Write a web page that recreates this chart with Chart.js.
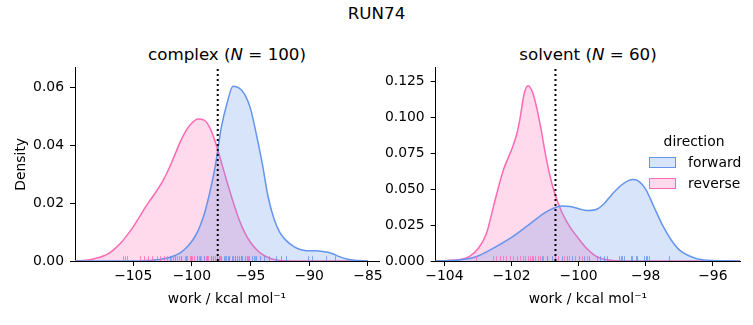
<!DOCTYPE html>
<html>
<head>
<meta charset="utf-8">
<script src="https://cdn.jsdelivr.net/npm/chart.js@4.4.0/dist/chart.umd.min.js"></script>
<style>
  body { margin: 0; width: 753px; height: 325px; background: #fff; position: relative; overflow: hidden;
         font-family: "DejaVu Sans", sans-serif; color: #000; }
  .txt { position: absolute; white-space: nowrap; line-height: 20px; }
  .suptitle { font-size: 16.7px; left: 0; width: 753px; text-align: center; top: 3px; }
  .subtitle { font-size: 16.7px; top: 43.6px; transform: translateX(-50%); }
  canvas { position: absolute; }
  .legend { position: absolute; font-size: 13.9px; line-height: 16px; white-space: nowrap; }
  .swatch { position: absolute; width: 25px; height: 9px; box-sizing: content-box; }
</style>
</head>
<body>
<div class="txt suptitle">RUN74</div>
<div class="txt subtitle" style="left:227px">complex (<i>N</i> = 100)</div>
<div class="txt subtitle" style="left:588px">solvent (<i>N</i> = 60)</div>

<canvas id="complex" width="390" height="285" style="left:0;top:40px"></canvas>
<canvas id="solvent" width="373" height="285" style="left:380px;top:40px"></canvas>

<div class="legend" style="left:694px;top:133px;transform:translateX(-50%)">direction</div>
<div class="swatch" style="left:649px;top:157px;border:1px solid rgb(100,149,237);background:rgba(100,149,237,0.25)"></div>
<div class="legend" style="left:688px;top:154px">forward</div>
<div class="swatch" style="left:649px;top:177.5px;border:1px solid rgb(255,105,180);background:rgba(255,105,180,0.25)"></div>
<div class="legend" style="left:688px;top:174.5px">reverse</div>

<script>
// ---- values ----
const xTicksComplex = [-105, -100, -95, -90, -85];
const yTicksComplex = [0, 0.02, 0.04, 0.06];
const xTicksSolvent = [-104, -102, -100, -98, -96];
const yTicksSolvent = [0, 0.025, 0.05, 0.075, 0.1, 0.125];

// density curves, complex leg
const complexGrid = [-110, -109.5, -109, -108.5, -108, -107.5, -107, -106.5, -106, -105.5,
  -105, -104.5, -104, -103.5, -103, -102.5, -102, -101.5, -101, -100.5,
  -100, -99.5, -99, -98.5, -98, -97.5, -97, -96.5, -96, -95.5,
  -95, -94.5, -94, -93.5, -93, -92.5, -92, -91.5, -91, -90.5,
  -90, -89.5, -89, -88.5, -88, -87.5, -87, -86.5, -86, -85.5, -85];
const complexForward = [0, 0, 0, 0, 0, 0, 0, 0, 0, 0,
  0, 0, 0.0001, 0.0002, 0.0004, 0.0007, 0.0011, 0.0018, 0.0028, 0.0045,
  0.0068, 0.0102, 0.0155, 0.0232, 0.033, 0.046, 0.0545, 0.0603, 0.0597, 0.0575,
  0.0525, 0.0435, 0.0335, 0.022, 0.0145, 0.0098, 0.0072, 0.0055, 0.0043, 0.0037,
  0.0035, 0.0035, 0.0034, 0.0031, 0.0025, 0.0016, 0.0009, 0.0004, 0.0002, 0.0001, 0];
const complexReverse = [0, 0.0001, 0.0003, 0.0006, 0.0011, 0.0018, 0.0028, 0.0045, 0.0065, 0.009,
  0.0118, 0.015, 0.0183, 0.0213, 0.0242, 0.0275, 0.0315, 0.0362, 0.041, 0.045,
  0.0476, 0.049, 0.0487, 0.0462, 0.041, 0.0342, 0.0272, 0.0205, 0.0145, 0.0098,
  0.0064, 0.004, 0.0023, 0.0012, 0.0005, 0.0002, 0.0001, 0, 0, 0,
  0, 0, 0, 0, 0, 0, 0, 0, 0, 0, 0];

// density curves, solvent leg
const solventForwardX = [-104.5, -104, -103.5, -103, -102.5, -102, -101.5, -101, -100.75, -100.5,
  -100.25, -100, -99.75, -99.5, -99.25, -99, -98.75, -98.5, -98.38, -98.25,
  -98, -97.75, -97.5, -97.25, -97, -96.5, -96, -95.5, -95];
const solventForwardY = [0, 0.0002, 0.0008, 0.0035, 0.0095, 0.0165, 0.025, 0.0338, 0.0368, 0.0383,
  0.038, 0.0365, 0.0352, 0.0358, 0.0398, 0.0466, 0.0525, 0.0562, 0.0568, 0.0562,
  0.05, 0.0375, 0.025, 0.015, 0.0078, 0.0018, 0.0003, 0.0001, 0];
const solventReverseX = [-104.5, -104, -103.5, -103.25, -103, -102.75, -102.5, -102.25, -102, -101.85,
  -101.75, -101.62, -101.5, -101.38, -101.25, -101.12, -101, -100.87, -100.75, -100.5,
  -100.25, -100, -99.75, -99.5, -99.25, -99, -98.5, -95];
const solventReverseY = [0, 0.0002, 0.0012, 0.0032, 0.0085, 0.019, 0.0415, 0.063, 0.0775, 0.088,
  0.099, 0.117, 0.1222, 0.118, 0.107, 0.092, 0.076, 0.061, 0.05, 0.034,
  0.0235, 0.0155, 0.0085, 0.0035, 0.0012, 0.0004, 0, 0];

// individual work values (rug)
const complexForwardWork = [-101.9, -101.4, -100.9, -100.5, -100.1, -99.6, -99.3, -99.0, -98.7, -98.4,
  -98.2, -97.9, -97.7, -97.5, -97.3, -97.1, -96.9, -96.8, -96.6, -96.5, -96.3, -96.2, -96.0,
  -95.8, -95.7, -95.5, -95.3, -95.1, -94.9, -94.7, -94.5, -94.2, -93.9, -93.4, -92.8, -92.4,
  -92.0, -90.1, -89.8, -88.55, -87.8];
const complexReverseWork = [-105.9, -105.7, -105.5, -104.4, -104.1, -103.7, -103.4, -103.0, -102.7,
  -102.4, -102.1, -101.8, -101.6, -101.3, -101.1, -100.9, -100.6, -100.4, -100.2, -100.0, -99.8,
  -99.6, -99.4, -99.2, -99.0, -98.8, -98.6, -98.4, -98.2, -98.0, -97.6, -97.2, -96.8, -96.3,
  -95.8, -95.2, -94.6];
const solventForwardWork = [-101.1, -100.95, -100.8, -100.7, -100.5, -100.35, -100.2, -100.0, -99.85,
  -99.7, -99.45, -99.35, -99.25, -99.15, -98.8, -98.75, -98.7, -98.65, -98.45, -98.4, -98.3,
  -98.25, -98.05, -98.0, -97.95, -97.9, -97.3];
const solventReverseWork = [-103.05, -102.55, -102.45, -102.35, -102.25, -102.15, -102.05, -101.95,
  -101.85, -101.75, -101.65, -101.6, -101.5, -101.45, -101.4, -101.35, -101.3, -101.2, -101.15,
  -101.05, -100.95, -100.8, -100.6, -100.45, -100.3, -100.1, -99.9, -99.75];

// dotted reference lines
const complexCut = -97.8;
const solventCut = -100.69;

const BLUE = 'rgb(100,149,237)';
const PINK = 'rgb(255,105,180)';
const FONT = { family: '"DejaVu Sans", sans-serif', size: 13.9 };

const pairs = (xs, ys) => xs.map((x, i) => ({ x: x, y: ys[i] }));
const minus = v => String(v).replace('-', '\u2212');

// short ticks along the bottom for each sample, drawn under the dotted line
const rugPlugin = {
  id: 'rug',
  afterDatasetDraw(chart, args, opts) {
    if (args.index !== 1) return;
    const { ctx, chartArea, scales } = chart;
    const h = chartArea.height * opts.height;
    ctx.save();
    ctx.lineWidth = 1;
    opts.sets.forEach(set => {
      ctx.strokeStyle = set.color;
      set.values.forEach(v => {
        const px = Math.round(scales.x.getPixelForValue(v)) + 0.5;
        ctx.beginPath();
        ctx.moveTo(px, chartArea.bottom);
        ctx.lineTo(px, chartArea.bottom - h);
        ctx.stroke();
      });
    });
    ctx.restore();
  }
};

function kde(label, data, color, fillColor) {
  return {
    label: label,
    data: data,
    borderColor: color,
    backgroundColor: fillColor,
    borderWidth: 1.5,
    pointRadius: 0,
    fill: 'origin',
    cubicInterpolationMode: 'monotone'
  };
}

function makePanel(id, cfg) {
  new Chart(document.getElementById(id), {
    type: 'line',
    data: {
      datasets: [
        {
          label: 'cut',
          data: [{ x: cfg.cut, y: 0 }, { x: cfg.cut, y: cfg.yMax }],
          borderColor: '#000',
          borderWidth: 2,
          borderDash: [2, 3],
          pointRadius: 0,
          fill: false
        },
        kde('forward', cfg.forward, BLUE, 'rgba(100,149,237,0.25)'),
        kde('reverse', cfg.reverse, PINK, 'rgba(255,105,180,0.25)')
      ]
    },
    options: {
      responsive: false,
      animation: false,
      events: [],
      layout: { padding: { left: 0, top: 27.7, right: cfg.padRight, bottom: 0 } },
      plugins: {
        legend: { display: false },
        tooltip: { enabled: false },
        rug: {
          height: 0.025,
          sets: [
            { values: cfg.reverseWork, color: 'rgba(255,105,180,0.8)' },
            { values: cfg.forwardWork, color: 'rgba(100,149,237,0.8)' }
          ]
        }
      },
      scales: {
        x: {
          type: 'linear',
          min: cfg.xMin,
          max: cfg.xMax,
          afterBuildTicks: axis => { axis.ticks = cfg.xTicks.map(v => ({ value: v })); },
          afterFit: axis => { axis.height = 64; },
          grid: { drawOnChartArea: false, drawTicks: true, tickLength: 5, tickColor: '#000', tickWidth: 1 },
          border: { display: true, color: '#000', width: 1 },
          ticks: { color: '#000', font: FONT, padding: 2.5, maxRotation: 0, callback: v => minus(v) },
          title: { display: true, text: 'work / kcal mol\u207B\u00B9', color: '#000', font: FONT,
                   padding: { top: 0, bottom: 17.7 } }
        },
        y: {
          min: 0,
          max: cfg.yMax,
          afterBuildTicks: axis => { axis.ticks = cfg.yTicks.map(v => ({ value: v })); },
          afterFit: axis => { axis.width = cfg.yWidth; },
          grid: { drawOnChartArea: false, drawTicks: true, tickLength: 5, tickColor: '#000', tickWidth: 1 },
          border: { display: true, color: '#000', width: 1 },
          ticks: { color: '#000', font: FONT, padding: 6, callback: v => v.toFixed(cfg.decimals) },
          title: { display: cfg.yTitle, text: 'Density', color: '#000', font: FONT,
                   padding: { top: 12.7, bottom: 0 } }
        }
      }
    },
    plugins: [rugPlugin]
  });
}

makePanel('complex', {
  forward: pairs(complexGrid, complexForward),
  reverse: pairs(complexGrid, complexReverse),
  forwardWork: complexForwardWork,
  reverseWork: complexReverseWork,
  cut: complexCut,
  xMin: -109.96, xMax: -84.06, yMax: 0.0667,
  xTicks: xTicksComplex, yTicks: yTicksComplex, decimals: 2,
  yWidth: 75, padRight: 11, yTitle: true
});

makePanel('solvent', {
  forward: pairs(solventForwardX, solventForwardY),
  reverse: pairs(solventReverseX, solventReverseY),
  forwardWork: solventForwardWork,
  reverseWork: solventReverseWork,
  cut: solventCut,
  xMin: -104.26, xMax: -95.19, yMax: 0.1348,
  xTicks: xTicksSolvent, yTicks: yTicksSolvent, decimals: 3,
  yWidth: 55.7, padRight: 13, yTitle: false
});
</script>
</body>
</html>
